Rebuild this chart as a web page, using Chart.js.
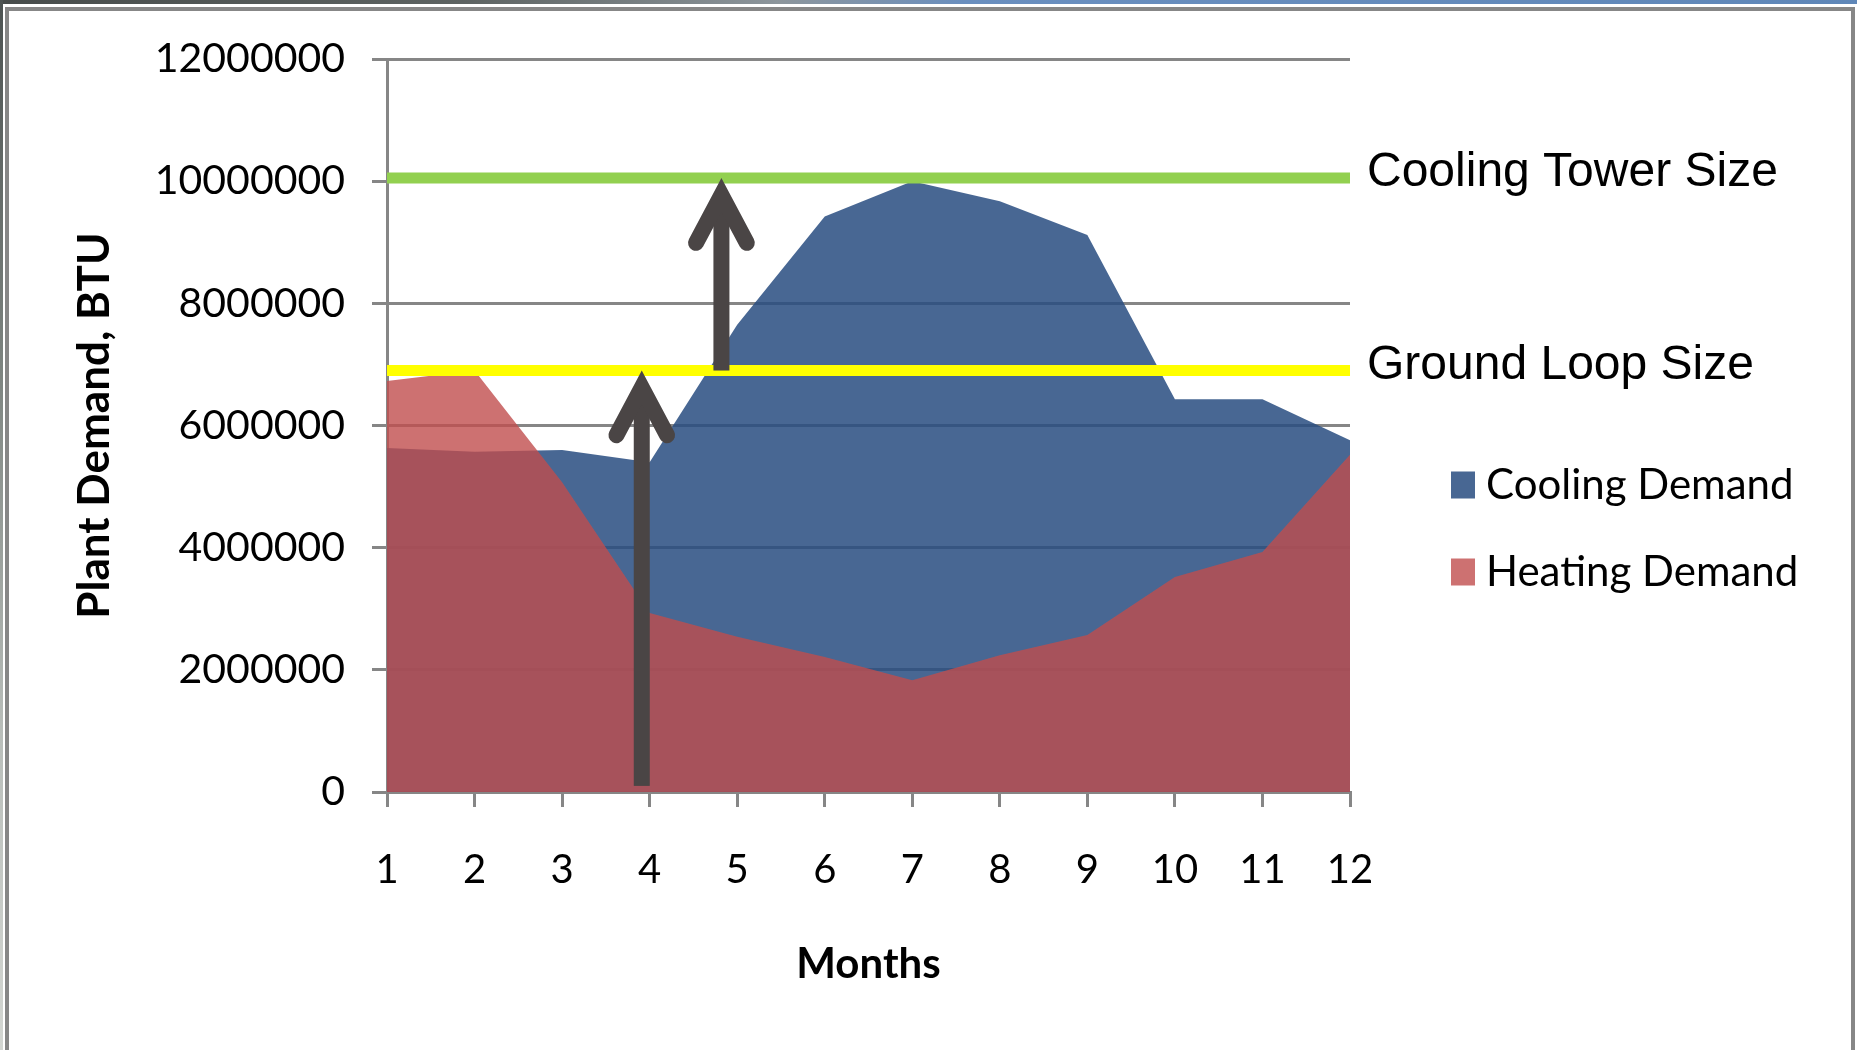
<!DOCTYPE html>
<html>
<head>
<meta charset="utf-8">
<title>Plant Demand by Month</title>
<script src="https://cdn.jsdelivr.net/npm/chart.js@4.4.1/dist/chart.umd.min.js"></script>
<style>
  html, body { margin: 0; padding: 0; background: #fff; }
  #wrap { position: relative; width: 1857px; height: 1050px; overflow: hidden; background: #fff; }
  #strip-top { position: absolute; left: 0; top: 0; width: 1857px; height: 4px;
    background: linear-gradient(90deg, #474c4b 0%, #5d6362 25%, #8d969c 42%, #6a8fbf 52%, #5f87b8 100%); }
  #strip-left { position: absolute; left: 0; top: 0; width: 3px; height: 1050px;
    background: linear-gradient(180deg, #4d5352 0%, #7d8480 35%, #b9beba 70%, #d3d6d2 100%); }
  #frame { position: absolute; left: 5px; top: 7px; width: 1850px; height: 1100px;
    border: 4px solid #878787; border-bottom: none; box-sizing: border-box; }
  canvas { position: absolute; left: 0; top: 0; }
</style>
</head>
<body>
<div id="wrap">
  <div id="strip-top"></div>
  <div id="strip-left"></div>
  <div id="frame"></div>
  <canvas id="chart" width="1857" height="1050"></canvas>
</div>
<script>
// Monthly plant demand (BTU)
const months = [1, 2, 3, 4, 5, 6, 7, 8, 9, 10, 11, 12];
const coolingDemand = [5630000, 5570000, 5600000, 5400000, 7650000, 9420000, 10000000, 9670000, 9120000, 6430000, 6430000, 5760000];
const heatingDemand = [6730000, 6900000, 5070000, 2930000, 2540000, 2210000, 1830000, 2240000, 2570000, 3520000, 3930000, 5520000];
const yTicks = [0, 2000000, 4000000, 6000000, 8000000, 10000000, 12000000];

// Equipment sizing levels
const coolingTowerSize = 10050000;
const groundLoopSize = 6900000;

// Arrows: month position, base value and tip value
const arrows = [
  { month: 3.91, from: 100000, to: groundLoopSize },
  { month: 4.82, from: groundLoopSize, to: coolingTowerSize }
];

const GRID = '#868686';
const ARROW = '#4a4545';

function drawArrow(ctx, px, yBase, yTip) {
  const w = 16, half = 28 * Math.PI / 180, len = 54;
  const vy = yTip + (w / 2) / Math.sin(half);
  ctx.fillStyle = ARROW;
  ctx.strokeStyle = ARROW;
  ctx.fillRect(px - w / 2, vy, w, yBase - vy);
  ctx.lineWidth = w;
  ctx.lineJoin = 'miter';
  ctx.lineCap = 'round';
  ctx.beginPath();
  ctx.moveTo(px - len * Math.sin(half), vy + len * Math.cos(half));
  ctx.lineTo(px, vy);
  ctx.lineTo(px + len * Math.sin(half), vy + len * Math.cos(half));
  ctx.stroke();
}

const annotations = {
  id: 'annotations',
  afterDatasetsDraw(chart) {
    const { ctx, chartArea, scales: { x, y } } = chart;
    ctx.save();

    arrows.forEach(a => {
      drawArrow(ctx, x.getPixelForValue(a.month), y.getPixelForValue(a.from), y.getPixelForValue(a.to));
    });

    // labels beside the sizing lines
    ctx.fillStyle = '#000';
    ctx.font = '48px "Liberation Sans", Arial, sans-serif';
    ctx.textAlign = 'left';
    ctx.textBaseline = 'alphabetic';
    chart.data.datasets.filter(d => d.sizeLine).forEach(d => {
      ctx.fillText(d.label, chartArea.right + 17, y.getPixelForValue(d.data[0].y) + 8);
    });

    // legend for the demand areas
    const items = chart.data.datasets.filter(d => d.fill);
    ctx.font = '42px Lato, sans-serif';
    ctx.textBaseline = 'middle';
    items.forEach((d, i) => {
      const cy = 484.5 + i * 87;
      ctx.fillStyle = '#fff';
      ctx.fillRect(chartArea.right + 101, cy - 13, 24, 27);
      ctx.fillStyle = d.backgroundColor;
      ctx.fillRect(chartArea.right + 101, cy - 13, 24, 27);
      ctx.fillStyle = '#000';
      ctx.fillText(d.label, chartArea.right + 136, cy + 1);
    });
    ctx.restore();
  }
};

Chart.defaults.font.family = 'Lato, sans-serif';
Chart.defaults.color = '#000';

new Chart(document.getElementById('chart'), {
  type: 'line',
  data: {
    datasets: [
      {
        label: 'Cooling Tower Size', sizeLine: true,
        data: [{ x: months[0], y: coolingTowerSize }, { x: months[months.length - 1], y: coolingTowerSize }],
        borderColor: '#92d050', borderWidth: 11, pointRadius: 0, fill: false, order: 0
      },
      {
        label: 'Ground Loop Size', sizeLine: true,
        data: [{ x: months[0], y: groundLoopSize }, { x: months[months.length - 1], y: groundLoopSize }],
        borderColor: '#ffff00', borderWidth: 11, pointRadius: 0, fill: false, order: 0
      },
      {
        label: 'Cooling Demand',
        data: months.map((m, i) => ({ x: m, y: coolingDemand[i] })),
        backgroundColor: 'rgba(40,76,128,0.85)', borderWidth: 0, borderColor: 'rgba(0,0,0,0)',
        pointRadius: 0, fill: 'origin', tension: 0, order: 2
      },
      {
        label: 'Heating Demand',
        data: months.map((m, i) => ({ x: m, y: heatingDemand[i] })),
        backgroundColor: 'rgba(192,77,77,0.8)', borderWidth: 0, borderColor: 'rgba(0,0,0,0)',
        pointRadius: 0, fill: 'origin', tension: 0, order: 1
      }
    ]
  },
  options: {
    responsive: false,
    animation: false,
    devicePixelRatio: 1,
    events: [],
    layout: { padding: { left: 0, top: 59, right: 507, bottom: 0 } },
    plugins: { legend: { display: false }, tooltip: { enabled: false } },
    scales: {
      x: {
        type: 'linear', min: months[0], max: months[months.length - 1],
        afterBuildTicks: s => { s.ticks = months.map(v => ({ value: v })); },
        afterFit: s => { s.height = 258; },
        grid: { drawOnChartArea: false, drawTicks: true, tickLength: 15, color: GRID, lineWidth: 3 },
        border: { display: true, color: GRID, width: 3 },
        ticks: { font: { size: 40 }, padding: 39, maxRotation: 0, autoSkip: false },
        title: { display: true, text: 'Months', font: { size: 42, weight: 'bold' }, padding: { top: 0, bottom: 60 } }
      },
      y: {
        min: yTicks[0], max: yTicks[yTicks.length - 1],
        afterBuildTicks: s => { s.ticks = yTicks.map(v => ({ value: v })); },
        afterFit: s => { s.width = 387; },
        grid: { color: GRID, lineWidth: 3, drawTicks: true, tickLength: 15 },
        border: { display: true, color: GRID, width: 3 },
        ticks: { font: { size: 41 }, padding: 27, callback: v => String(v) },
        title: { display: true, text: 'Plant Demand, BTU', font: { size: 44, weight: 'bold' }, padding: { top: 68, bottom: 0 } }
      }
    }
  },
  plugins: [annotations]
});
</script>
</body>
</html>
